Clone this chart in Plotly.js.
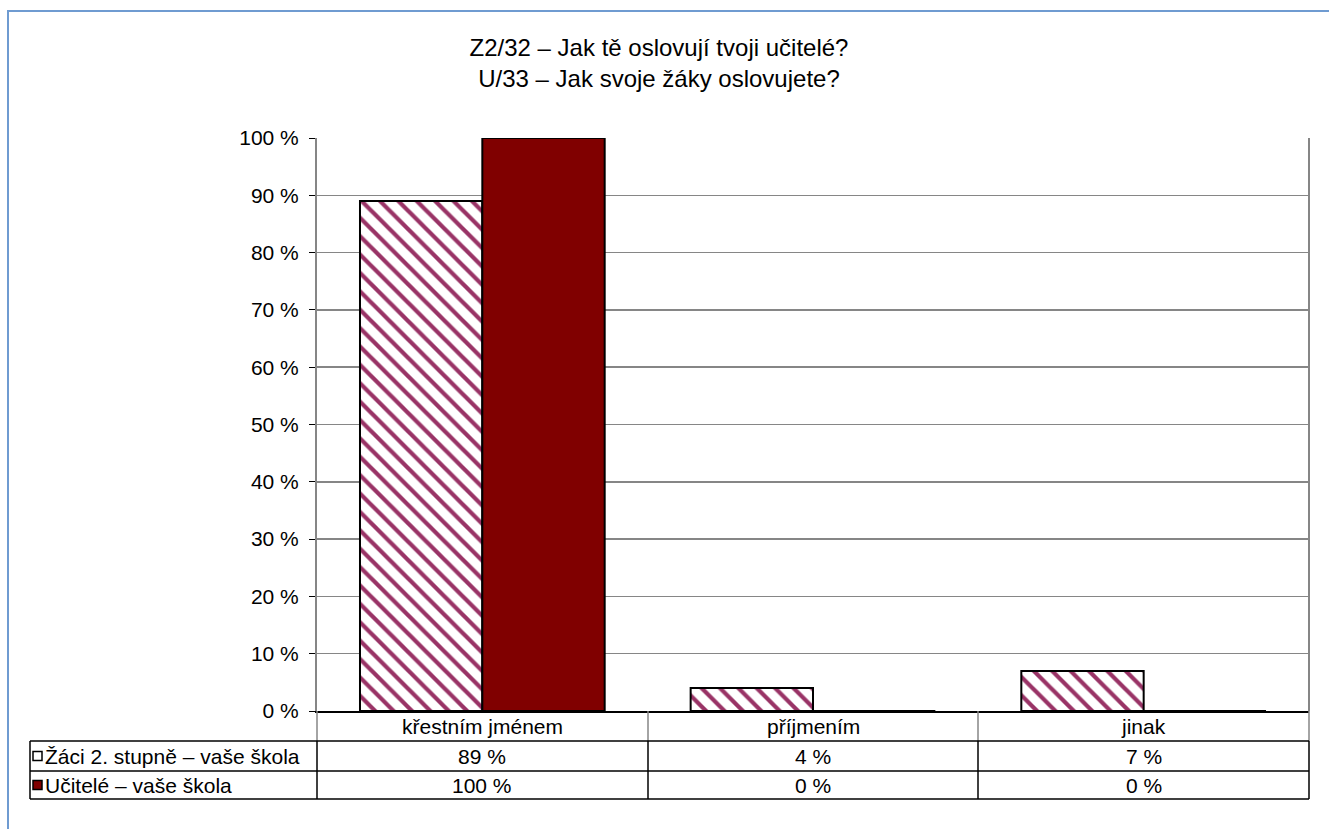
<!DOCTYPE html>
<html>
<head>
<meta charset="utf-8">
<script src="https://cdn.plot.ly/plotly-3.0.1.min.js"></script>
<style>
html,body{margin:0;padding:0;background:#fff;}
#chart{width:1329px;height:829px;}
</style>
</head>
<body>
<div id="chart"></div>
<script>
// ---- data ----
const categories = ["křestním jménem", "příjmením", "jinak"];
const seriesNames = ["Žáci 2. stupně – vaše škola", "Učitelé – vaše škola"];
const zaciValues = [89, 4, 7];
const uciteleValues = [100, 0, 0];
const yTickValues = [0, 10, 20, 30, 40, 50, 60, 70, 80, 90, 100];
const titleLines = ["Z2/32 – Jak tě oslovují tvoji učitelé?", "U/33 – Jak svoje žáky oslovujete?"];

// ---- layout geometry (pixels) ----
const W = 1329, H = 829;
const L = 317, R = 1309, T = 138, B = 711;
const pw = R - L, ph = B - T;
const px = x => (x - L) / pw;
const py = y => (B - y) / ph;

const FONT = "Liberation Sans, Arial, sans-serif";
const GREY = "#868686";
const PLUM = "#993366";
const MAROON = "#800000";
const FS = 21;

const traces = [
  {
    type: "bar", name: seriesNames[0], x: categories, y: zaciValues,
    marker: {
      color: "#ffffff",
      pattern: {shape: "\\", fgcolor: PLUM, bgcolor: "#ffffff", size: 13, solidity: 0.32, fillmode: "replace"},
      line: {color: "#000000", width: 2}
    },
    hoverinfo: "none"
  },
  {
    type: "bar", name: seriesNames[1], x: categories, y: uciteleValues,
    marker: {color: MAROON, line: {color: "#000000", width: 2}},
    hoverinfo: "none"
  }
];

const rowY = [726, 756, 785];   // centres of table rows
const shapes = [];
const annotations = [];

// outer blue frame
shapes.push({type: "rect", xref: "paper", yref: "paper",
  x0: px(8), x1: px(1340), y0: py(11), y1: py(840),
  line: {color: "#6f9bd1", width: 2}, fillcolor: "rgba(0,0,0,0)", layer: "below"});

// table lines
const colX = [L, 648, 978, R];
colX.forEach(x => shapes.push({type: "line", xref: "paper", yref: "paper",
  x0: px(x), x1: px(x), y0: py(711), y1: py(741), line: {color: GREY, width: 1.5}}));
[30].concat(colX).forEach(x => shapes.push({type: "line", xref: "paper", yref: "paper",
  x0: px(x), x1: px(x), y0: py(741), y1: py(799), line: {color: "#000000", width: 1.5}}));
[741, 771, 799].forEach(y => shapes.push({type: "line", xref: "paper", yref: "paper",
  x0: px(30), x1: px(R), y0: py(y), y1: py(y), line: {color: "#000000", width: 1.5}}));
shapes.push({type: "line", xref: "paper", yref: "paper",
  x0: 1, x1: 1, y0: 0, y1: 1, line: {color: GREY, width: 2}});

// category labels
categories.forEach((c, i) => annotations.push({xref: "x", yref: "paper", x: c, y: py(rowY[0]),
  text: c, showarrow: false, xanchor: "center", yanchor: "middle",
  font: {family: FONT, size: FS, color: "#000"}}));

// value cells
[zaciValues, uciteleValues].forEach((vals, r) => {
  vals.forEach((v, i) => annotations.push({xref: "x", yref: "paper", x: categories[i], y: py(rowY[r + 1]),
    text: v + " %", showarrow: false, xanchor: "center", yanchor: "middle",
    font: {family: FONT, size: FS, color: "#000"}}));
});

// legend keys in table
const swatchFill = ["#ffffff", MAROON];
seriesNames.forEach((n, r) => {
  const cy = rowY[r + 1];
  shapes.push({type: "rect", xref: "paper", yref: "paper",
    x0: px(33), x1: px(42), y0: py(cy - 4.5), y1: py(cy + 4.5),
    fillcolor: swatchFill[r], line: {color: "#000000", width: 1.5}});
  annotations.push({xref: "paper", yref: "paper", x: px(43), y: py(cy),
    text: n, showarrow: false, xanchor: "left", yanchor: "middle",
    font: {family: FONT, size: FS, color: "#000"}});
});

const layout = {
  width: W, height: H,
  margin: {l: L, r: W - R, t: T, b: H - B, pad: 0},
  paper_bgcolor: "#ffffff", plot_bgcolor: "#ffffff",
  showlegend: false,
  barmode: "group", bargap: 0.26, bargroupgap: 0,
  title: {
    text: titleLines.join("<br>"),
    font: {family: FONT, size: 24, color: "#000"},
    xref: "container", x: 659 / W, xanchor: "center",
    yref: "container", y: 1 - 56 / H, yanchor: "top"
  },
  xaxis: {
    type: "category", showticklabels: false, showgrid: false,
    showline: true, linecolor: "#000000", linewidth: 1.5,
    ticks: "", fixedrange: true
  },
  yaxis: {
    range: [0, 100], tickvals: yTickValues, ticktext: yTickValues.map(v => v + " %"),
    showgrid: true, gridcolor: GREY, gridwidth: 1.5,
    showline: true, linecolor: GREY, linewidth: 2, mirror: false,
    ticks: "outside", ticklen: 6, tickcolor: "#000000", tickwidth: 1,
    ticklabelstandoff: 6,
    tickfont: {family: FONT, size: FS, color: "#000"},
    zeroline: false, fixedrange: true
  },
  shapes: shapes,
  annotations: annotations
};

Plotly.newPlot("chart", traces, layout, {displayModeBar: false, staticPlot: true});
</script>
</body>
</html>
